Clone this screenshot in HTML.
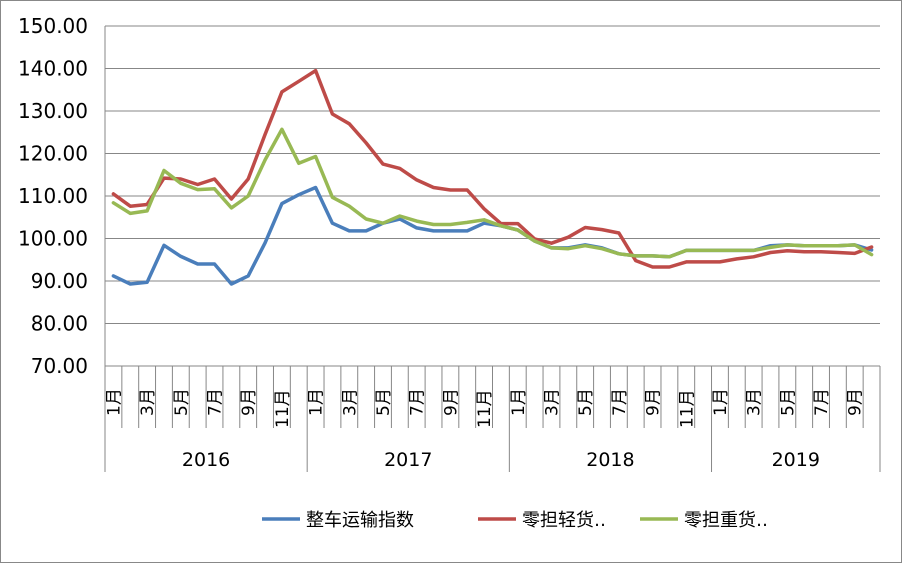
<!DOCTYPE html>
<html><head><meta charset="utf-8"><style>
html,body{margin:0;padding:0;background:#fff}
svg text{font-family:"DejaVu Sans","Liberation Sans","Noto Sans CJK SC",sans-serif}
</style></head><body>
<svg id="c" width="903" height="564" xmlns="http://www.w3.org/2000/svg">
<rect x="0.5" y="0.5" width="901" height="562" fill="#fff" stroke="#888" stroke-width="1"/>
<g id="g"></g>
</svg>
<script>
const g=document.getElementById('g');
const L=105,R=880,N=46,w=(R-L)/N;
const Y=v=>26+(150-v)*4.25;
let s='';
for(let v=70;v<=150;v+=10){
  const y=Y(v);
  s+=`<line x1="${L}" y1="${y}" x2="${R}" y2="${y}" stroke="#878787" stroke-width="1"/>`;
  s+=`<text x="88" y="${y+7}" font-size="20" text-anchor="end" fill="#000">${v}.00</text>`;
}
s+=`<line x1="${L}" y1="26" x2="${L}" y2="366" stroke="#878787"/>`;
for(let i=0;i<=N;i++){
  const x=L+i*w;
  const yr=(i%12==0||i==N);
  s+=`<line x1="${x}" y1="366" x2="${x}" y2="${yr?472:428}" stroke="#878787"/>`;
}
for(let i=0;i<N;i++){
  const m=i%12+1;
  if(m%2==1){
    const x=L+(i+0.5)*w;
    const y0=m>=10?428:416;
    s+=`<text transform="translate(${x+6},${y0}) rotate(-90)" font-size="17" text-anchor="start" fill="#000">${m}月</text>`;
  }
}
const yrs=[['2016',0,12],['2017',12,24],['2018',24,36],['2019',36,46]];
yrs.forEach(([t,a,b])=>{s+=`<text x="${L+(a+b)/2*w}" y="466" font-size="19" text-anchor="middle" fill="#000">${t}</text>`;});
const blue=[91.2,89.3,89.7,98.4,95.8,94,94,89.3,91.2,99,108.2,110.3,
112,103.6,101.8,101.8,103.6,104.6,102.5,101.8,101.8,101.8,103.6,103,
102,99.4,97.8,97.8,98.5,97.8,96.4,95.9,95.9,95.7,97.2,97.2,
97.2,97.2,97.2,98.3,98.5,98.3,98.3,98.3,98.5,97.3];
const red=[110.5,107.6,108,114.2,114,112.7,114,109.3,114,124.5,134.5,137,
139.5,129.3,127,122.5,117.5,116.5,113.8,112,111.4,111.4,107,103.5,
103.5,99.9,98.9,100.3,102.6,102.1,101.3,94.8,93.3,93.3,94.5,94.5,
94.5,95.2,95.7,96.7,97.1,96.9,96.9,96.7,96.5,98];
const green=[108.4,105.9,106.5,116,113,111.5,111.7,107.2,110,118.5,125.7,117.7,
119.3,109.7,107.6,104.6,103.6,105.3,104.1,103.3,103.3,103.8,104.4,103,
102,99.4,97.8,97.6,98.3,97.6,96.4,95.9,95.9,95.7,97.2,97.2,
97.2,97.2,97.2,97.9,98.5,98.3,98.3,98.3,98.5,96.2];
const path=(d,c)=>`<polyline fill="none" stroke="${c}" stroke-width="3.5" stroke-linejoin="round" stroke-linecap="round" points="${d.map((v,i)=>(L+(i+0.5)*w).toFixed(1)+','+Y(v).toFixed(1)).join(' ')}"/>`;
s+=path(blue,'#4a7ebb')+path(red,'#be4b48')+path(green,'#98b954');
const leg=[[262,'#4a7ebb','整车运输指数'],[478,'#be4b48','零担轻货‥'],[640,'#98b954','零担重货‥']];
leg.forEach(([x,c,t])=>{
  s+=`<line x1="${x}" y1="519" x2="${x+38}" y2="519" stroke="${c}" stroke-width="3.5"/>`;
  s+=`<text x="${x+44}" y="526" font-size="18" fill="#000">${t}</text>`;
});
g.innerHTML=s;
</script>
</body></html>
